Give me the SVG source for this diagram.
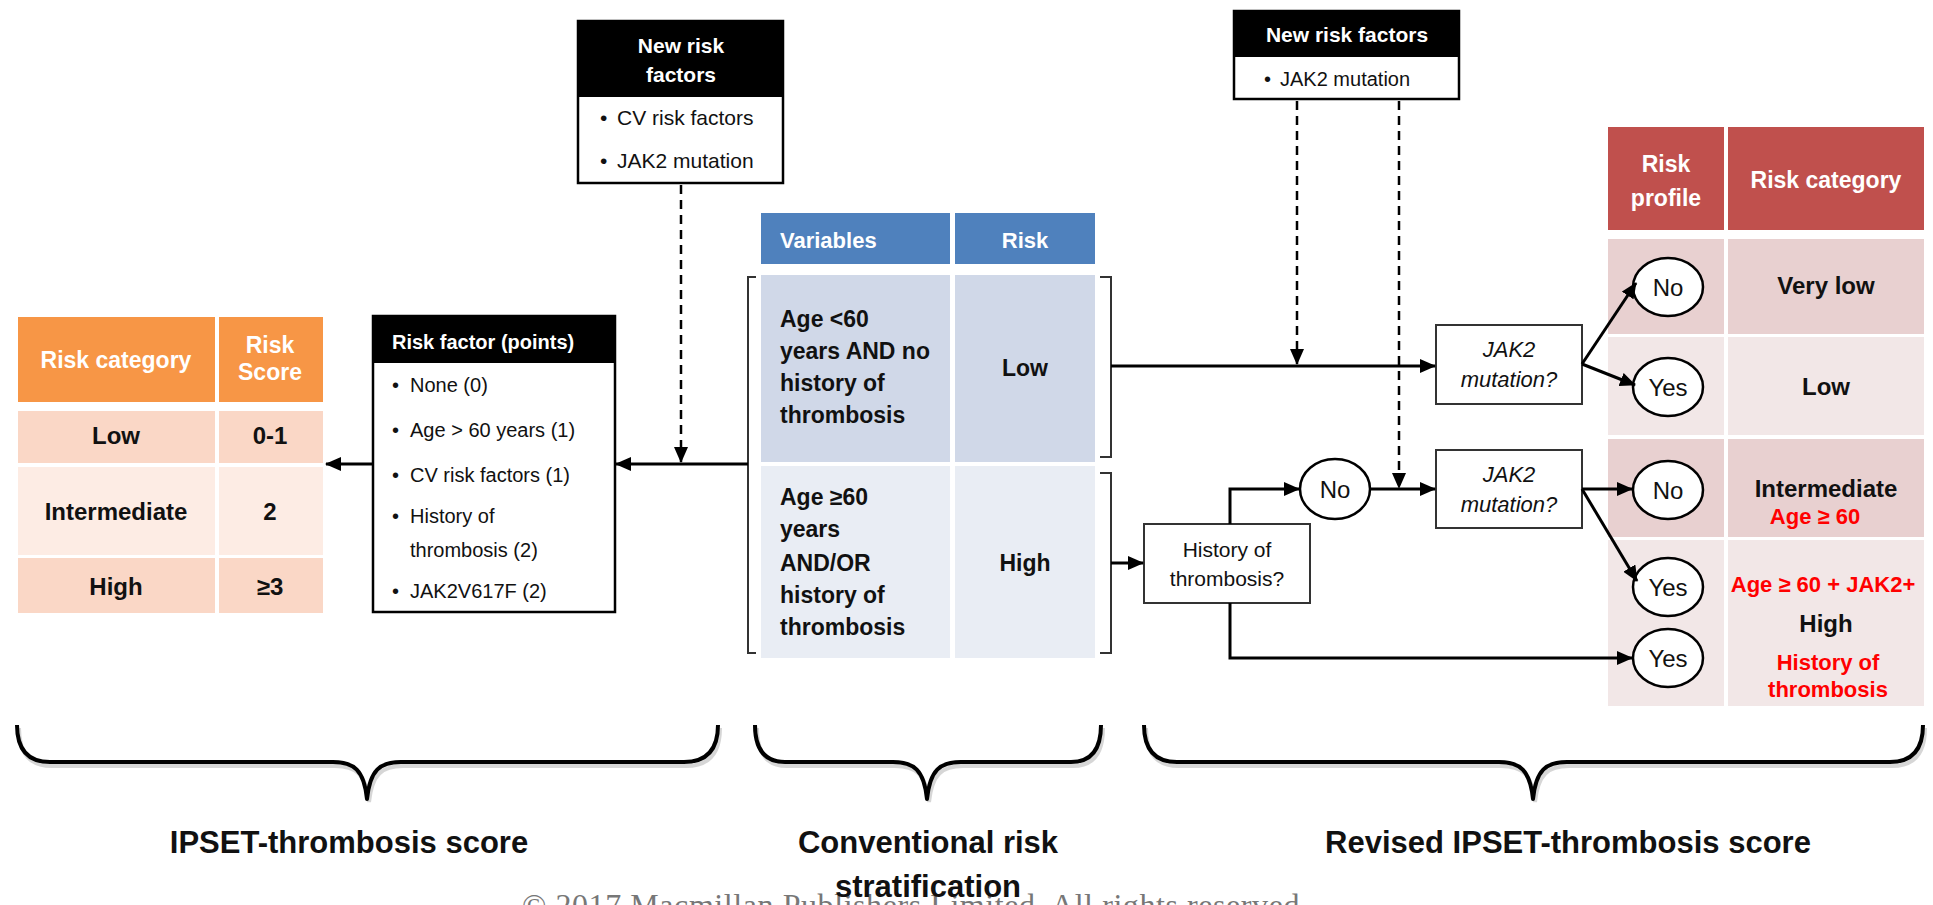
<svg xmlns="http://www.w3.org/2000/svg" width="1933" height="905" viewBox="0 0 1933 905">
<style>
text{font-family:"Liberation Sans",Arial,sans-serif;fill:#111}
.b{font-weight:bold}
.w{fill:#fff}
.c{text-anchor:middle}
.red{fill:#ff0000;font-weight:bold;font-size:22px}
.box{fill:#fff;stroke:#000;stroke-width:2.5}
.qbox{fill:#fff;stroke:#333;stroke-width:2}
.hdr{fill:#000}
.circ{fill:#fff;stroke:#000;stroke-width:2.5}
.ln{fill:none;stroke:#000;stroke-width:3}
.dash{fill:none;stroke:#000;stroke-width:2.5;stroke-dasharray:9 6}
.brk{fill:none;stroke:#333;stroke-width:2}
.brace{fill:none;stroke:#000;stroke-width:4;stroke-linejoin:round}
.braceSh{fill:none;stroke:#bbb;stroke-width:4;opacity:0.6}
.it{font-style:italic}
</style>
<defs>
<marker id="ah" markerUnits="userSpaceOnUse" markerWidth="16" markerHeight="14" refX="15" refY="7" orient="auto">
<path d="M0,0 L16,7 L0,14 Z" fill="#000"/>
</marker>
</defs>
<rect width="1933" height="905" fill="#fff"/>

<!-- IPSET orange table -->
<g id="ipset-table">
<rect x="18" y="317" width="197" height="85" fill="#F79646"/>
<rect x="219" y="317" width="104" height="85" fill="#F79646"/>
<rect x="18" y="411" width="197" height="52" fill="#FAD7C6"/>
<rect x="219" y="411" width="104" height="52" fill="#FAD7C6"/>
<rect x="18" y="467" width="197" height="88" fill="#FDECE4"/>
<rect x="219" y="467" width="104" height="88" fill="#FDECE4"/>
<rect x="18" y="558" width="197" height="55" fill="#FAD7C6"/>
<rect x="219" y="558" width="104" height="55" fill="#FAD7C6"/>
<text x="116" y="368" class="b w c" font-size="23">Risk category</text>
<text x="270" y="353" class="b w c" font-size="23">Risk</text>
<text x="270" y="380" class="b w c" font-size="23">Score</text>
<text x="116" y="444" class="b c" font-size="24">Low</text>
<text x="270" y="444" class="b c" font-size="24">0-1</text>
<text x="116" y="520" class="b c" font-size="24">Intermediate</text>
<text x="270" y="520" class="b c" font-size="24">2</text>
<text x="116" y="595" class="b c" font-size="24">High</text>
<text x="270" y="595" class="b c" font-size="24">≥3</text>
</g>

<!-- Risk factor box -->
<g id="risk-factor-box">
<rect x="373" y="316" width="242" height="296" class="box"/>
<rect x="373" y="316" width="242" height="47" class="hdr"/>
<text x="392" y="349" class="b w" font-size="20">Risk factor (points)</text>
<g font-size="20">
<text x="392" y="392">•<tspan x="410">None (0)</tspan></text>
<text x="392" y="437">•<tspan x="410">Age &gt; 60 years (1)</tspan></text>
<text x="392" y="482">•<tspan x="410">CV risk factors (1)</tspan></text>
<text x="392" y="523">•<tspan x="410">History of</tspan></text>
<text x="410" y="557">thrombosis (2)</text>
<text x="392" y="598">•<tspan x="410">JAK2V617F (2)</tspan></text>
</g>
</g>

<!-- New risk factors (left) -->
<g id="new-risk-left">
<rect x="578" y="21" width="205" height="162" class="box"/>
<rect x="578" y="21" width="205" height="76" class="hdr"/>
<text x="681" y="53" class="b w c" font-size="21">New risk</text>
<text x="681" y="82" class="b w c" font-size="21">factors</text>
<text x="600" y="125" font-size="21">•<tspan x="617">CV risk factors</tspan></text>
<text x="600" y="168" font-size="21">•<tspan x="617">JAK2 mutation</tspan></text>
</g>

<!-- Conventional table -->
<g id="conventional-table">
<rect x="761" y="213" width="189" height="51" fill="#4F81BD"/>
<rect x="955" y="213" width="140" height="51" fill="#4F81BD"/>
<rect x="761" y="275" width="189" height="187" fill="#D0D8E8"/>
<rect x="955" y="275" width="140" height="187" fill="#D0D8E8"/>
<rect x="761" y="466" width="189" height="192" fill="#E9EDF4"/>
<rect x="955" y="466" width="140" height="192" fill="#E9EDF4"/>
<text x="780" y="248" class="b w" font-size="22">Variables</text>
<text x="1025" y="248" class="b w c" font-size="22">Risk</text>
<g class="b" font-size="23">
<text x="780" y="327">Age &lt;60</text>
<text x="780" y="359">years AND no</text>
<text x="780" y="391">history of</text>
<text x="780" y="423">thrombosis</text>
<text x="1025" y="376" class="c">Low</text>
<text x="780" y="505">Age ≥60</text>
<text x="780" y="537">years</text>
<text x="780" y="571">AND/OR</text>
<text x="780" y="603">history of</text>
<text x="780" y="635">thrombosis</text>
<text x="1025" y="571" class="c">High</text>
</g>
<path d="M756,277 H748 V653 H756" class="brk"/>
<path d="M1100,277 H1111 V457 H1100" class="brk"/>
<path d="M1100,473 H1111 V653 H1100" class="brk"/>
</g>

<!-- New risk factors (right) -->
<g id="new-risk-right">
<rect x="1234" y="11" width="225" height="88" class="box"/>
<rect x="1234" y="11" width="225" height="46" class="hdr"/>
<text x="1347" y="42" class="b w c" font-size="21">New risk factors</text>
<text x="1264" y="86" font-size="20">•<tspan x="1280">JAK2 mutation</tspan></text>
</g>

<!-- Decision boxes -->
<g id="jak2-q1">
<rect x="1436" y="325" width="146" height="79" class="qbox"/>
<text x="1509" y="357" class="it c" font-size="22">JAK2</text>
<text x="1509" y="387" class="it c" font-size="22">mutation?</text>
</g>
<g id="jak2-q2">
<rect x="1436" y="450" width="146" height="78" class="qbox"/>
<text x="1509" y="482" class="it c" font-size="22">JAK2</text>
<text x="1509" y="512" class="it c" font-size="22">mutation?</text>
</g>
<g id="history-q">
<rect x="1144" y="524" width="166" height="79" class="qbox"/>
<text x="1227" y="557" class="c" font-size="21">History of</text>
<text x="1227" y="586" class="c" font-size="21">thrombosis?</text>
</g>
<g id="no-mid">
<ellipse cx="1335" cy="489" rx="35" ry="30" class="circ"/>
<text x="1335" y="498" class="c" font-size="24">No</text>
</g>

<!-- Revised table -->
<g id="revised-table">
<rect x="1608" y="127" width="116" height="103" fill="#C0504D"/>
<rect x="1728" y="127" width="196" height="103" fill="#C0504D"/>
<rect x="1608" y="239" width="116" height="95" fill="#E8D0D0"/>
<rect x="1728" y="239" width="196" height="95" fill="#E8D0D0"/>
<rect x="1608" y="337" width="116" height="98" fill="#F2E7E7"/>
<rect x="1728" y="337" width="196" height="98" fill="#F2E7E7"/>
<rect x="1608" y="439" width="116" height="98" fill="#E8D0D0"/>
<rect x="1728" y="439" width="196" height="98" fill="#E8D0D0"/>
<rect x="1608" y="540" width="116" height="166" fill="#F2E7E7"/>
<rect x="1728" y="540" width="196" height="166" fill="#F2E7E7"/>
<text x="1666" y="172" class="b w c" font-size="23">Risk</text>
<text x="1666" y="206" class="b w c" font-size="23">profile</text>
<text x="1826" y="188" class="b w c" font-size="23">Risk category</text>
<text x="1826" y="294" class="b c" font-size="24">Very low</text>
<text x="1826" y="395" class="b c" font-size="24">Low</text>
<text x="1826" y="497" class="b c" font-size="24">Intermediate</text>
<text x="1815" y="524" class="red c">Age ≥ 60</text>
<text x="1823" y="592" class="red c">Age ≥ 60 + JAK2+</text>
<text x="1826" y="632" class="b c" font-size="24">High</text>
<text x="1828" y="670" class="red c">History of</text>
<text x="1828" y="697" class="red c">thrombosis</text>
</g>
<g id="out-no1">
<ellipse cx="1668" cy="287" rx="35" ry="29" class="circ"/>
<text x="1668" y="296" class="c" font-size="24">No</text>
</g>
<g id="out-yes1">
<ellipse cx="1668" cy="387" rx="35" ry="29" class="circ"/>
<text x="1668" y="396" class="c" font-size="24">Yes</text>
</g>
<g id="out-no2">
<ellipse cx="1668" cy="490" rx="35" ry="29" class="circ"/>
<text x="1668" y="499" class="c" font-size="24">No</text>
</g>
<g id="out-yes2">
<ellipse cx="1668" cy="587" rx="35" ry="29" class="circ"/>
<text x="1668" y="596" class="c" font-size="24">Yes</text>
</g>
<g id="out-yes3">
<ellipse cx="1668" cy="658" rx="35" ry="29" class="circ"/>
<text x="1668" y="667" class="c" font-size="24">Yes</text>
</g>

<!-- Connectors -->
<g id="connectors">
<path d="M373,464 H326" class="ln" marker-end="url(#ah)"/>
<path d="M748,464 H616" class="ln" marker-end="url(#ah)"/>
<path d="M681,185 V462" class="dash" marker-end="url(#ah)"/>
<path d="M1111,366 H1435" class="ln" marker-end="url(#ah)"/>
<path d="M1297,101 V364" class="dash" marker-end="url(#ah)"/>
<path d="M1399,101 V488" class="dash" marker-end="url(#ah)"/>
<path d="M1111,563 H1143" class="ln" marker-end="url(#ah)"/>
<path d="M1230,524 V489 H1299" class="ln" marker-end="url(#ah)"/>
<path d="M1370,489 H1435" class="ln" marker-end="url(#ah)"/>
<path d="M1230,603 V658 H1632" class="ln" marker-end="url(#ah)"/>
<path d="M1582,364 L1636,283" class="ln" marker-end="url(#ah)"/>
<path d="M1582,364 L1635,385" class="ln" marker-end="url(#ah)"/>
<path d="M1582,489 H1632" class="ln" marker-end="url(#ah)"/>
<path d="M1582,489 L1637,581" class="ln" marker-end="url(#ah)"/>
</g>

<!-- Braces -->
<g id="braces">
<path d="M19,728 Q19,766 52,766 L335,766 C356,766 366,774 369,802 C372,774 382,766 403,766 L686,766 Q720,766 720,728" class="braceSh"/>
<path d="M17,725 Q17,762 50,762 L333,762 C354,762 364,770 367,799 C370,770 380,762 401,762 L684,762 Q718,762 718,725" class="brace"/>
<path d="M757,728 Q757,766 787,766 L895,766 C916,766 926,774 929,802 C932,774 942,766 963,766 L1073,766 Q1103,766 1103,728" class="braceSh"/>
<path d="M755,725 Q755,762 785,762 L893,762 C914,762 924,770 927,799 C930,770 940,762 961,762 L1071,762 Q1101,762 1101,725" class="brace"/>
<path d="M1146,728 Q1146,766 1179,766 L1501,766 C1522,766 1532,774 1535,802 C1538,774 1548,766 1569,766 L1892,766 Q1925,766 1925,728" class="braceSh"/>
<path d="M1144,725 Q1144,762 1177,762 L1499,762 C1520,762 1530,770 1533,799 C1536,770 1546,762 1567,762 L1890,762 Q1923,762 1923,725" class="brace"/>
</g>

<!-- Bottom labels -->
<g id="labels">
<text x="915" y="916" font-family="Liberation Serif,serif" font-size="32" fill="#777" style="fill:#777;font-family:'Liberation Serif',serif" text-anchor="middle" textLength="786">© 2017 Macmillan Publishers Limited. All rights reserved.</text>
<text x="349" y="853" class="b c" font-size="31">IPSET-thrombosis score</text>
<text x="928" y="853" class="b c" font-size="31">Conventional risk</text>
<text x="928" y="897" class="b c" font-size="31">stratification</text>
<text x="1568" y="853" class="b c" font-size="31">Revised IPSET-thrombosis score</text>
</g>
</svg>
